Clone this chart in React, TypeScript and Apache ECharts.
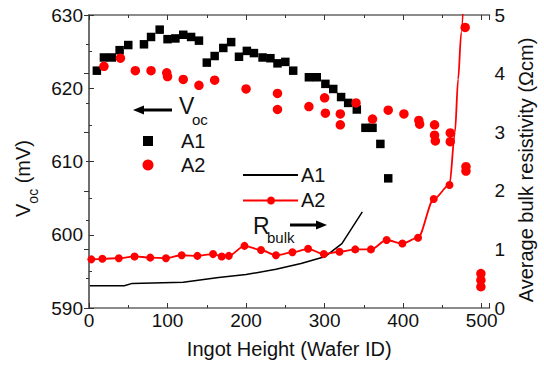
import React, { useEffect, useRef } from 'react';
import * as echarts from 'echarts';

const FONT = "'Liberation Sans', Arial, Helvetica, sans-serif";

// Voc (mV) vs ingot height, sample A1 (black squares)
const a1Height = [10, 19, 29, 39, 50, 70, 79, 90, 100, 110, 120, 130, 140, 150, 160, 171, 181, 191, 201, 210, 221, 231, 240, 250, 260, 280, 290, 301, 311, 321, 330, 341, 352, 361, 371, 381];
const a1Voc = [622.4, 624.2, 624.2, 625.2, 625.9, 626.0, 627.0, 628.0, 626.7, 626.8, 627.3, 627.0, 626.5, 623.5, 624.4, 625.5, 626.3, 624.3, 625.1, 624.8, 624.2, 624.1, 623.4, 623.6, 622.4, 621.5, 621.5, 620.6, 619.9, 618.8, 618.0, 617.1, 614.6, 614.6, 612.4, 607.7];

// Voc (mV) vs ingot height, sample A2 (red circles)
const a2Height = [19, 40, 59, 79, 99, 100, 120, 140, 160, 200, 240, 240, 280, 300, 301, 320, 320, 340, 361, 381, 401, 420, 421, 440, 440, 441, 460, 460, 479, 480, 480, 499, 499, 499];
const a2Voc = [623.0, 624.1, 622.4, 622.4, 622.1, 621.6, 621.2, 620.4, 621.1, 619.9, 619.3, 617.1, 617.5, 618.7, 616.6, 616.5, 615.0, 618.0, 615.8, 617.0, 616.5, 615.6, 615.1, 615.0, 613.6, 612.8, 613.9, 612.7, 628.3, 609.3, 608.7, 594.7, 593.8, 592.9];

// Average bulk resistivity (Ohm cm), A1 (black line)
const a1RhoHeight = [1, 45, 55, 120, 165, 200, 238, 270, 301, 322, 348];
const a1Rho = [0.38, 0.38, 0.42, 0.44, 0.52, 0.57, 0.66, 0.76, 0.88, 1.1, 1.64];

// Average bulk resistivity (Ohm cm), A2 (red line with markers)
const a2RhoHeight = [3, 17, 38, 58, 78, 98, 118, 138, 158, 169, 178, 198, 219, 238, 259, 279, 299, 319, 339, 359, 379, 399, 419, 439, 459];
const a2Rho = [0.83, 0.84, 0.85, 0.88, 0.86, 0.85, 0.90, 0.89, 0.92, 0.88, 0.89, 1.06, 0.99, 0.90, 0.95, 1.01, 0.92, 0.96, 1.0, 1.0, 1.16, 1.10, 1.2, 1.86, 2.1];
// continuation of the A2 curve beyond the last marker (no markers)
const a2TailHeight = [466, 470, 474, 478];
const a2Tail = [3.0, 3.9, 4.7, 5.6];

const xTicks = { min: 0, max: 510, interval: 100 };
const vocTicks = { min: 590, max: 630, interval: 10 };
const rhoTicks = { min: 0, max: 5, interval: 1 };

const AXIS_COLOR = '#666';

export default function App() {
  const ref = useRef<HTMLDivElement>(null);
  useEffect(() => {
    if (!ref.current) return;
    const chart = echarts.init(ref.current, null, { renderer: 'svg' });

    const axisCommon = {
      axisLine: { show: true, lineStyle: { color: AXIS_COLOR, width: 1.5 } },
      axisTick: { show: true, inside: true, length: 5, lineStyle: { color: '#333', width: 1 } },
      minorTick: { show: true, splitNumber: 2, length: 3, lineStyle: { color: '#333', width: 1 } },
      splitLine: { show: false },
      minorSplitLine: { show: false },
    };

    const a2Line: any[] = a2RhoHeight.map((h, i) => [h, a2Rho[i]]);
    a2TailHeight.forEach((h, i) => a2Line.push({ value: [h, a2Tail[i]], symbol: 'none' }));

    const option: any = {
      animation: false,
      backgroundColor: '#fff',
      grid: { left: 89, right: 51, top: 15, bottom: 61, containLabel: false },
      xAxis: [
        {
          type: 'value', position: 'bottom', ...xTicks, ...axisCommon,
          axisLabel: { show: true, fontSize: 19, fontFamily: FONT, color: '#111', margin: 3, showMaxLabel: false },
          name: 'Ingot Height (Wafer ID)', nameLocation: 'middle', nameGap: 31,
          nameTextStyle: { fontSize: 20, fontFamily: FONT, color: '#111' },
        },
        {
          type: 'value', position: 'top', ...xTicks, ...axisCommon,
          axisLabel: { show: false },
        },
      ],
      yAxis: [
        {
          type: 'value', position: 'left', ...vocTicks, ...axisCommon,
          axisLabel: { show: true, fontSize: 19, fontFamily: FONT, color: '#111', margin: 6 },
          name: '{v|V}{s|oc}{v| (mV)}', nameLocation: 'middle', nameGap: 45,
          nameTextStyle: {
            fontSize: 20, fontFamily: FONT, color: '#111',
            padding: [0, 34, 0, 0],
            rich: {
              v: { fontSize: 20, fontFamily: FONT, color: '#111' },
              s: { fontSize: 14, fontFamily: FONT, color: '#111', padding: [20, 0, 0, 0] },
            },
          },
        },
        {
          type: 'value', position: 'right', ...rhoTicks, ...axisCommon,
          axisLabel: { show: true, fontSize: 19, fontFamily: FONT, color: '#111', margin: 5 },
          name: 'Average bulk resistivity (\u03A9cm)', nameLocation: 'middle', nameGap: 25,
          nameTextStyle: { fontSize: 20, fontFamily: FONT, color: '#111', padding: [0, 17, 0, 0] },
        },
      ],
      series: [
        {
          name: 'A1 Rbulk', type: 'line', xAxisIndex: 0, yAxisIndex: 1,
          data: a1RhoHeight.map((h, i) => [h, a1Rho[i]]),
          showSymbol: false, symbol: 'none',
          lineStyle: { color: '#000', width: 1.5 }, itemStyle: { color: '#000' },
          z: 2,
        },
        {
          name: 'A2 Rbulk', type: 'line', xAxisIndex: 0, yAxisIndex: 1,
          data: a2Line,
          smooth: 0.3, smoothMonotone: 'x',
          symbol: 'circle', symbolSize: 8, showSymbol: true,
          lineStyle: { color: '#ff0000', width: 1.8 }, itemStyle: { color: '#ff0000', opacity: 1 },
          z: 3,
        },
        {
          name: 'A1 Voc', type: 'scatter', xAxisIndex: 0, yAxisIndex: 0,
          data: a1Height.map((h, i) => [h, a1Voc[i]]),
          symbol: 'rect', symbolSize: 8.5,
          itemStyle: { color: '#000', opacity: 1 },
          z: 4,
        },
        {
          name: 'A2 Voc', type: 'scatter', xAxisIndex: 0, yAxisIndex: 0,
          data: a2Height.map((h, i) => [h, a2Voc[i]]),
          symbol: 'circle', symbolSize: 9.5,
          itemStyle: { color: '#ff0000', opacity: 1 },
          z: 5,
        },
      ],
      graphic: [
        // Voc arrow pointing left
        { type: 'line', shape: { x1: 140, y1: 110, x2: 172, y2: 110 }, style: { stroke: '#000', lineWidth: 3 } },
        { type: 'polygon', shape: { points: [[133, 110], [144, 105.5], [144, 114.5]] }, style: { fill: '#000' } },
        { type: 'text', x: 179, y: 106, style: { text: 'V', fontSize: 23, fontFamily: FONT, fill: '#111', align: 'left', verticalAlign: 'middle' } },
        { type: 'text', x: 192, y: 119, style: { text: 'oc', fontSize: 15, fontFamily: FONT, fill: '#111', align: 'left', verticalAlign: 'middle' } },
        // Voc legend
        { type: 'rect', shape: { x: 143, y: 136, width: 10, height: 10 }, style: { fill: '#000' } },
        { type: 'text', x: 181, y: 141, style: { text: 'A1', fontSize: 20, fontFamily: FONT, fill: '#111', align: 'left', verticalAlign: 'middle' } },
        { type: 'circle', shape: { cx: 148, cy: 165, r: 5.5 }, style: { fill: '#ff0000' } },
        { type: 'text', x: 181, y: 165, style: { text: 'A2', fontSize: 20, fontFamily: FONT, fill: '#111', align: 'left', verticalAlign: 'middle' } },
        // Rbulk legend
        { type: 'line', shape: { x1: 243, y1: 175, x2: 298, y2: 175 }, style: { stroke: '#000', lineWidth: 1.8 } },
        { type: 'text', x: 301, y: 175, style: { text: 'A1', fontSize: 20, fontFamily: FONT, fill: '#111', align: 'left', verticalAlign: 'middle' } },
        { type: 'line', shape: { x1: 243, y1: 200.5, x2: 298, y2: 200.5 }, style: { stroke: '#ff0000', lineWidth: 1.8 } },
        { type: 'circle', shape: { cx: 271, cy: 200.5, r: 4 }, style: { fill: '#ff0000' } },
        { type: 'text', x: 301, y: 200, style: { text: 'A2', fontSize: 20, fontFamily: FONT, fill: '#111', align: 'left', verticalAlign: 'middle' } },
        // Rbulk arrow pointing right
        { type: 'text', x: 253, y: 226, style: { text: 'R', fontSize: 23, fontFamily: FONT, fill: '#111', align: 'left', verticalAlign: 'middle' } },
        { type: 'text', x: 267, y: 237, style: { text: 'bulk', fontSize: 15, fontFamily: FONT, fill: '#111', align: 'left', verticalAlign: 'middle' } },
        { type: 'line', shape: { x1: 290, y1: 225, x2: 318, y2: 225 }, style: { stroke: '#000', lineWidth: 3 } },
        { type: 'polygon', shape: { points: [[327, 225], [316, 220.5], [316, 229.5]] }, style: { fill: '#000' } },
      ],
    };
    chart.setOption(option);
    return () => chart.dispose();
  }, []);
  return (
    <div
      ref={ref}
      style={{ position: 'absolute', left: 0, top: 0, width: 544, height: 369, background: '#fff' }}
    />
  );
}
